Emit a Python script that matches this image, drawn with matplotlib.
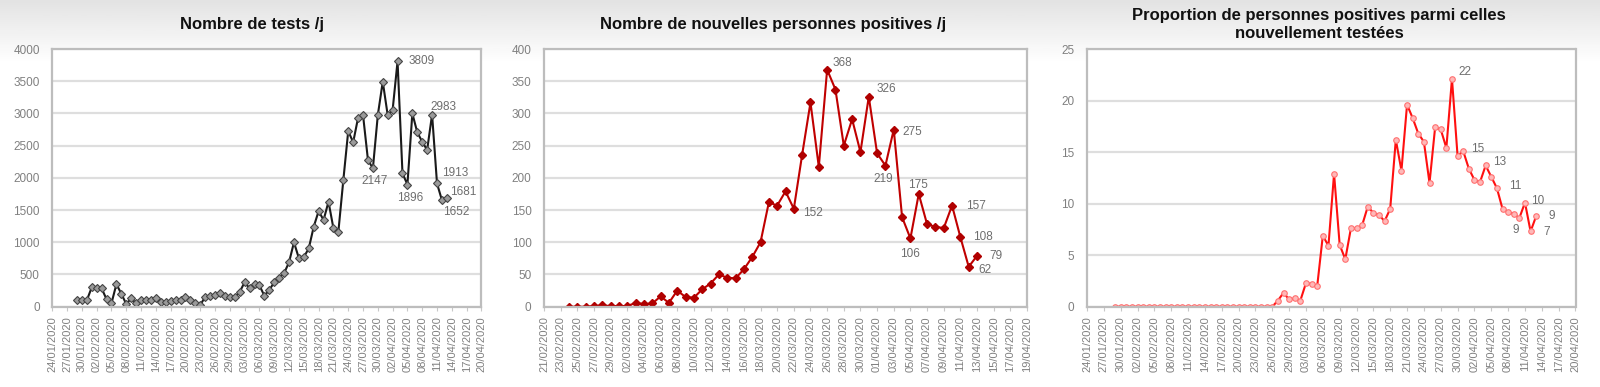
import numpy as np
import pandas as pd
import matplotlib
matplotlib.use("Agg")
import matplotlib.pyplot as plt
import matplotlib.dates as mdates

plt.rcParams['font.family'] = ['Liberation Sans', 'DejaVu Sans']

# ---- data ----
tests_dates = pd.date_range("2020-01-29", "2020-04-13")
tests = [100, 100, 100, 300, 295, 285, 115, 55, 350, 200,
         40, 130, 50, 100, 110, 110, 130, 80, 80, 90,
         100, 100, 145, 100, 60, 25, 155, 165, 180, 215,
         165, 155, 145, 230, 380, 285, 350, 330, 170, 260,
         380, 450, 520, 690, 1000, 750, 770, 905, 1240, 1485,
         1345, 1630, 1216, 1164, 1960, 2727, 2551, 2934, 2975, 2277,
         2147, 2975, 3493, 2975, 3053, 3809, 2070, 1896, 3000, 2706,
         2561, 2432, 2983, 1913, 1652, 1681]

pos_dates = pd.date_range("2020-02-24", "2020-04-13")
positives = [0, 0, 0, 1, 2, 1, 1, 1,
             6, 4, 5, 16, 6, 25, 15, 14, 27, 36,
             50, 45, 44, 58, 77, 100, 162, 157, 179, 152,
             236, 317, 217, 368, 337, 250, 291, 240, 326, 238,
             219, 275, 139, 106, 175, 128, 124, 122, 157, 108,
             62, 79]

prop_dates = pd.date_range("2020-01-29", "2020-04-13")
proportion = [0] * 29 + [
    0.6, 1.35, 0.7, 0.8, 0.6, 2.3, 2.2, 2.0, 6.9, 5.9,
    12.9, 6.0, 4.6, 7.6, 7.6, 7.9, 9.7, 9.1, 8.9, 8.3,
    9.5, 16.2, 13.2, 19.6, 18.3, 16.8, 16.0, 12.0, 17.4, 17.2,
    15.4, 22.1, 14.6, 15.1, 13.4, 12.3, 12.1, 13.7, 12.6, 11.5,
    9.5, 9.2, 9.0, 8.6, 10.1, 7.3, 8.8]

titles = ["Nombre de tests /j",
          "Nombre de nouvelles personnes positives /j",
          "Proportion de personnes positives parmi celles\nnouvellement testées"]

# data labels: (date, text, dx px, dy px)
tests_labels = [("2020-04-03", "3809", 24, 0), ("2020-03-29", "2147", 2, -13),
                ("2020-04-05", "1896", 3, -13), ("2020-04-10", "2983", 11, 8),
                ("2020-04-11", "1913", 18, 10), ("2020-04-13", "1681", 16, 6),
                ("2020-04-12", "1652", 14, -12)]
pos_labels = [("2020-03-26", "368", 15, 7), ("2020-03-31", "326", 18, 8),
              ("2020-04-03", "275", 19, -2), ("2020-04-02", "219", -2, -13),
              ("2020-03-22", "152", 19, -4), ("2020-04-06", "175", -1, 9),
              ("2020-04-05", "106", 0, -16), ("2020-04-10", "157", 24, 0),
              ("2020-04-11", "108", 23, 0), ("2020-04-12", "62", 16, -3),
              ("2020-04-13", "79", 19, 0)]
prop_labels = [("2020-03-29", "22", 13, 7), ("2020-03-31", "15", 14, 2),
               ("2020-04-04", "13", 14, 3), ("2020-04-06", "11", 18, 2),
               ("2020-04-11", "10", 13, 2), ("2020-04-10", "9", -4, -12),
               ("2020-04-12", "7", 16, -1), ("2020-04-13", "9", 16, 0)]

GREY = '#808080'
W, H = 1600, 387

fig = plt.figure(figsize=(W / 100, H / 100), dpi=100)

# light grey band at the top (screen capture)
bg = fig.add_axes([0, 0, 1, 1], zorder=-10)
grad = np.linspace(0, 1, 200).reshape(-1, 1)
grad = np.clip(0.89 + 0.11 * grad / 0.16, 0, 1)
bg.imshow(grad, cmap='gray', vmin=0, vmax=1, aspect='auto', extent=[0, 1, 0, 1])
bg.set_axis_off()


def make_ax(x0, x1, y0=49, y1=306.7):
    ax = fig.add_axes([x0 / W, 1 - y1 / H, (x1 - x0) / W, (y1 - y0) / H])
    for s in ax.spines.values():
        s.set_color('#bdbdbd')
        s.set_linewidth(1.6)
    ax.grid(axis='y', color='#dedede', linewidth=1.6)
    ax.set_axisbelow(True)
    ax.tick_params(axis='y', length=0, pad=9, labelsize=8.5, labelcolor=GREY)
    ax.tick_params(axis='x', length=3, color='#c8c8c8', pad=4,
                   labelsize=8, labelcolor=GREY, labelrotation=90)
    return ax


def date_axis(ax, start, end, step):
    ticks = pd.date_range(start, end, freq=f"{step}D")
    ax.set_xlim(mdates.date2num(ticks[0]), mdates.date2num(ticks[-1]))
    ax.set_xticks(mdates.date2num(ticks))
    ax.set_xticklabels([t.strftime("%d/%m/%Y") for t in ticks])


def add_labels(ax, labels, dates, values):
    lookup = dict(zip([d.strftime("%Y-%m-%d") for d in dates], values))
    for d, txt, dx, dy in labels:
        ax.annotate(txt, (mdates.date2num(pd.Timestamp(d)), lookup[d]),
                    xytext=(dx, dy), textcoords='offset pixels',
                    ha='center', va='center', fontsize=8.5, color='#6e6e6e')


# panel 1
ax1 = make_ax(52.3, 481.4)
ax1.plot(mdates.date2num(tests_dates), tests, color='#1a1a1a', lw=1.5,
         marker='D', ms=4, mfc='#9a9a9a', mec='#444444', mew=0.8)
ax1.set_ylim(0, 4000)
ax1.set_yticks(np.arange(0, 4001, 500))
date_axis(ax1, "2020-01-24", "2020-04-20", 3)
add_labels(ax1, tests_labels, tests_dates, tests)

# panel 2
ax2 = make_ax(544, 1027)
ax2.plot(mdates.date2num(pos_dates), positives, color='#c00000', lw=1.5,
         marker='D', ms=4.5, mfc='#b00000', mec='#b00000')
ax2.set_ylim(0, 400)
ax2.set_yticks(np.arange(0, 401, 50))
date_axis(ax2, "2020-02-21", "2020-04-19", 2)
add_labels(ax2, pos_labels, pos_dates, positives)

# panel 3
ax3 = make_ax(1087, 1575.5)
ax3.plot(mdates.date2num(prop_dates), proportion, color='#ff1010', lw=1.5,
         marker='o', ms=4, mfc='#ffb8b8', mec='#ff7070', mew=0.8)
ax3.set_ylim(0, 25)
ax3.set_yticks(np.arange(0, 26, 5))
date_axis(ax3, "2020-01-24", "2020-04-20", 3)
add_labels(ax3, prop_labels, prop_dates, proportion)

# titles
fig.text(252 / W, 1 - 24.8 / H, titles[0], ha='center', va='center',
         fontsize=12, fontweight='bold', color='#111111')
fig.text(772.8 / W, 1 - 24.8 / H, titles[1], ha='center', va='center',
         fontsize=12, fontweight='bold', color='#111111')
fig.text(1319 / W, 1 - 24.5 / H, titles[2], ha='center', va='center',
         fontsize=12, fontweight='bold', color='#111111', linespacing=1.2)

fig.savefig("out.png", dpi=100)
